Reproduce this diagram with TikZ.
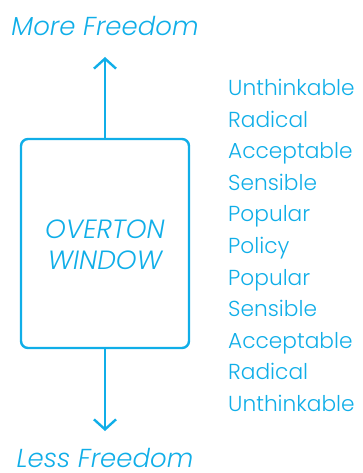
\documentclass[tikz,border=0pt]{standalone}
\usepackage{fontspec}
\setmainfont{Poppins}[UprightFont=* Light,ItalicFont=* Light Italic]
\usetikzlibrary{arrows.meta,positioning}
\definecolor{cyanink}{HTML}{10AEE8}
\tikzset{
  window/.style={draw=cyanink,line width=2.4bp,rounded corners=7bp,minimum width=168bp,minimum height=209bp,inner sep=0pt},
  title/.style={text=cyanink,font=\fontsize{26bp}{30bp}\selectfont\itshape,anchor=base,inner sep=0pt},
  wtext/.style={text=cyanink,font=\fontsize{26.4bp}{31bp}\selectfont\itshape,align=center,inner sep=0pt},
  step item/.style={text=cyanink,font=\fontsize{21.7bp}{26bp}\selectfont,anchor=base west,inner sep=0pt},
  ar/.style={-{Straight Barb[length=10bp,width=22bp]},draw=cyanink,line width=2.4bp},
}
\begin{document}
\begin{tikzpicture}[x=1bp,y=-1bp]
\useasboundingbox (0,0) rectangle (362,473);
% the window and its two directions
\node[window] (win) at (105,243.5) {};
\node[wtext] (wlab) at (105,245) {OVERTON\\WINDOW};
\coordinate (uptip) at (105,57);
\coordinate (downtip) at (105,431);
\draw[ar] (win.north) -- (uptip);
\draw[ar] (win.south) -- (downtip);
\node[title] (more) at (105,36) {More Freedom};
\node[title] (less) at (105,467) {Less Freedom};
% the scale on the right
\node[step item] (s1) at (228,95.5) {Unthinkable};
\node[step item] (s2) at (228,127.1) {Radical};
\node[step item] (s3) at (228,158.7) {Acceptable};
\node[step item] (s4) at (228,190.3) {Sensible};
\node[step item] (s5) at (228,221.9) {Popular};
\node[step item] (s6) at (228,253.5) {Policy};
\node[step item] (s7) at (228,285.1) {Popular};
\node[step item] (s8) at (228,316.7) {Sensible};
\node[step item] (s9) at (228,348.3) {Acceptable};
\node[step item] (s10) at (228,379.9) {Radical};
\node[step item] (s11) at (228,411.5) {Unthinkable};
\end{tikzpicture}
\end{document}
